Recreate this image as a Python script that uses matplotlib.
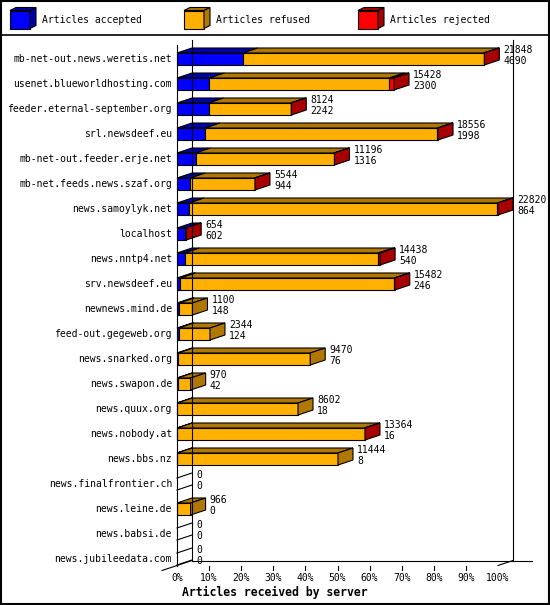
import matplotlib

matplotlib.use("Agg")

import matplotlib.pyplot as plt
from matplotlib.lines import Line2D
from matplotlib.patches import Polygon, Rectangle

servers = [
    "mb-net-out.news.weretis.net", "usenet.blueworldhosting.com",
    "feeder.eternal-september.org", "srl.newsdeef.eu",
    "mb-net-out.feeder.erje.net", "mb-net.feeds.news.szaf.org",
    "news.samoylyk.net", "localhost", "news.nntp4.net", "srv.newsdeef.eu",
    "newnews.mind.de", "feed-out.gegeweb.org", "news.snarked.org",
    "news.swapon.de", "news.quux.org", "news.nobody.at", "news.bbs.nz",
    "news.finalfrontier.ch", "news.leine.de", "news.babsi.de",
    "news.jubileedata.com",
]
offered = [21848, 15428, 8124, 18556, 11196, 5544, 22820, 654, 14438, 15482,
           1100, 2344, 9470, 970, 8602, 13364, 11444, 0, 966, 0, 0]
accepted = [4690, 2300, 2242, 1998, 1316, 944, 864, 602, 540, 246,
            148, 124, 76, 42, 18, 16, 8, 0, 0, 0, 0]
# not printed on the chart, estimated from the red slices
rejected = [40, 330, 30, 40, 30, 25, 40, 52, 120, 30,
            0, 0, 0, 0, 0, 20, 0, 0, 0, 0, 0]
legend_labels = ["Articles accepted", "Articles refused", "Articles rejected"]
tick_values = list(range(0, 101, 10))
title = "Articles received by server"

FRONT = ["#0000ff", "#ffb000", "#ff0000"]
DARK = ["#0000a8", "#b07800", "#a80000"]
FONT = "DejaVu Sans Mono"
FS = 7.05

W, H = 550, 605
PX = 3.21          # pixels per percent
DX = 15 / PX       # depth, in percent
DY = 0.2           # depth, in rows
HH = 0.24          # half bar height, in rows
LW = 0.8

fig = plt.figure(figsize=(W / 100, H / 100), dpi=100)
ax = fig.add_axes([177 / W, 1 - 571.5 / H, 321 / W, 525 / H])
ax.set_xlim(0, 100)
ax.set_ylim(len(servers) - 0.5, -0.5)
ax.axis("off")

top = -0.56
bottom = len(servers) - 1 + 0.26


def line(xs, ys, **kw):
    ax.add_line(Line2D(xs, ys, color="black", lw=LW, clip_on=False, **kw))


# frame of the 3d box
line([DX, DX], [top - DY, bottom - DY])
line([100 + DX, 100 + DX], [top - DY, bottom - DY])
line([DX, 100 + DX + 19 / PX], [bottom - DY, bottom - DY])
line([-DX, DX], [bottom + DY, bottom - DY])
line([100, 100 + DX], [bottom, bottom - DY])
for t in tick_values[1:-1]:
    line([t, t], [bottom, bottom + 0.16])
for t in tick_values:
    ax.text(t, bottom + 0.5, f"{t}%", ha="center", va="center",
            family=FONT, fontsize=FS, clip_on=False)

scale = 100 / max(offered)
for i, name in enumerate(servers):
    refused = offered[i] - accepted[i] - rejected[i]
    parts = [accepted[i], refused, rejected[i]]
    y0, y1 = i - HH, i + HH
    x = 0.0
    segs = []
    for c, v in enumerate(parts):
        if v > 0:
            segs.append((x, x + v * scale, c))
            x += v * scale
    for x0, x1, c in segs:
        ax.add_patch(Rectangle((x0, y0), x1 - x0, y1 - y0, fc=FRONT[c],
                               ec="black", lw=LW, clip_on=False))
        ax.add_patch(Polygon([(x0, y0), (x1, y0), (x1 + DX, y0 - DY), (x0 + DX, y0 - DY)],
                             closed=True, fc=DARK[c], ec="black", lw=LW, clip_on=False))
    if segs:
        x1, c = segs[-1][1], segs[-1][2]
        ax.add_patch(Polygon([(x1, y0), (x1 + DX, y0 - DY), (x1 + DX, y1 - DY), (x1, y1)],
                             closed=True, fc=DARK[c], ec="black", lw=LW, clip_on=False))
    else:
        line([0, DX], [y0, y0 - DY])
        line([0, DX], [y1, y1 - DY])
    end = x + DX + 4 / PX
    ax.text(end, i - 0.36, str(offered[i]), va="center", family=FONT, fontsize=FS)
    ax.text(end, i + 0.08, str(accepted[i]), va="center", family=FONT, fontsize=FS)
    ax.text(-5 / PX, i, name, ha="right", va="center", family=FONT, fontsize=FS,
            clip_on=False)

line([0, 0], [top, bottom])

# legend strip
lax = fig.add_axes([0, 1 - 35 / H, 1, 35 / H])
lax.set_xlim(0, W)
lax.set_ylim(35, 0)
lax.axis("off")
for k, label in enumerate(legend_labels):
    x0 = 10 + 174 * k
    lax.add_patch(Rectangle((x0, 10.5), 20, 18, fc=FRONT[k], ec="black", lw=LW))
    lax.add_patch(Polygon([(x0, 10.5), (x0 + 20, 10.5), (x0 + 26, 7.5), (x0 + 6, 7.5)],
                          closed=True, fc=DARK[k], ec="black", lw=LW))
    lax.add_patch(Polygon([(x0 + 20, 10.5), (x0 + 26, 7.5), (x0 + 26, 25.5), (x0 + 20, 28.5)],
                          closed=True, fc=DARK[k], ec="black", lw=LW))
    lax.text(x0 + 32, 20, label, va="center", family=FONT, fontsize=FS)

fig.add_artist(Line2D([0, 1], [1 - 35 / H, 1 - 35 / H], color="black", lw=1.2))
fig.add_artist(Rectangle((0.001, 0.001), 0.997, 0.997, transform=fig.transFigure,
                         fill=False, ec="black", lw=1.5))
fig.text(0.5, 1 - 592 / H, title, ha="center", va="center", family=FONT,
         fontsize=8.3, fontweight="bold")

fig.savefig("out.png", dpi=100)
